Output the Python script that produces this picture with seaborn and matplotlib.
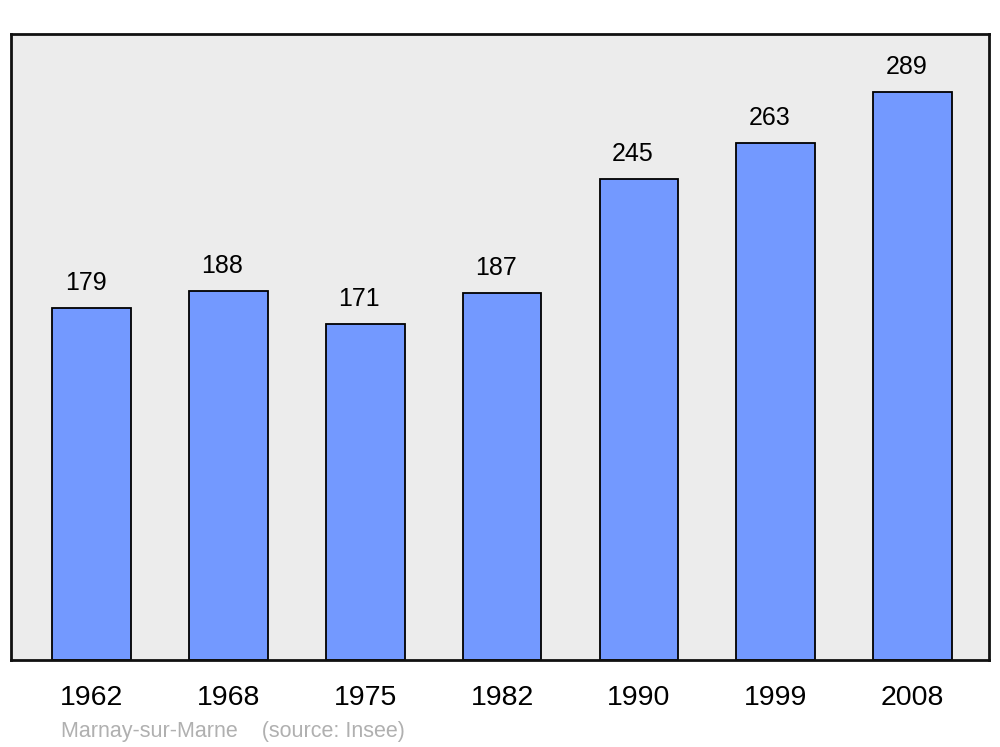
import matplotlib
matplotlib.use("Agg")
import matplotlib.pyplot as plt
import seaborn as sns
import pandas as pd

years = ["1962", "1968", "1975", "1982", "1990", "1999", "2008"]
population = [179, 188, 171, 187, 245, 263, 289]
place_name = "Marnay-sur-Marne"
source_note = "(source: Insee)"


def main():
    sns.set_theme(style="white")
    plt.rcParams['font.family'] = ['Liberation Sans', 'DejaVu Sans']

    df = pd.DataFrame({"year": years, "pop": population})

    fig = plt.figure(figsize=(10, 7.47), dpi=100)
    ax = fig.add_axes([0.011, 0.1165, 0.978, 0.838])
    ax.set_facecolor('#ececec')

    sns.barplot(data=df, x="year", y="pop", color='#7399ff', saturation=1,
                edgecolor='black', linewidth=1.3, width=0.575, ax=ax)

    for i, v in enumerate(population):
        ax.annotate(str(v), (i, v), xytext=(-4.3, 13), textcoords='offset points',
                    ha='center', va='baseline', fontsize=18, color='black')

    ax.set_xlim(-0.59, 6.56)
    ax.set_ylim(0, 318.7)
    ax.set_xlabel("")
    ax.set_ylabel("")
    ax.set_yticks([])
    ax.tick_params(axis='x', length=0, pad=18, labelsize=20.5, labelcolor='black')
    for s in ax.spines.values():
        s.set_visible(True)
        s.set_linewidth(2)
        s.set_color('#111111')

    fig.text(0.061, 0.0134, place_name + "    " + source_note, fontsize=15.5,
             color='#b0b0b0', ha='left', va='baseline')

    fig.savefig("out.png", dpi=100, facecolor='white')


if __name__ == "__main__":
    main()
